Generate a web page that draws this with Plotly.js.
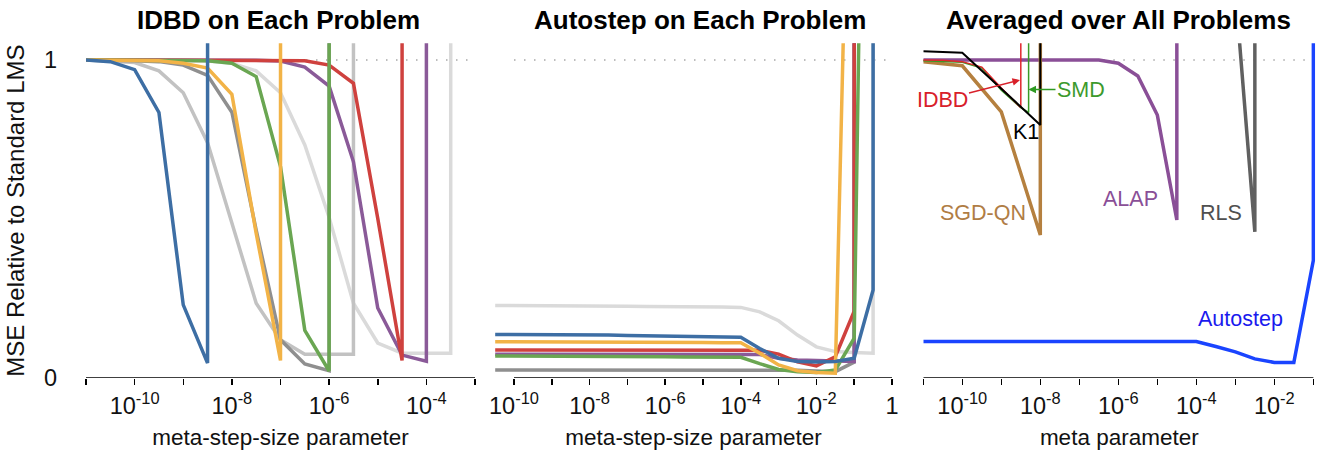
<!DOCTYPE html>
<html>
<head>
<meta charset="utf-8">
<script src="https://cdn.plot.ly/plotly-3.0.1.min.js"></script>
<style>
  html, body { margin: 0; padding: 0; background: #fff; }
  #chart { width: 1321px; height: 453px; }
</style>
</head>
<body>
<div id="chart"></div>
<script>
// ---------------- DATA ----------------
// Panel 1: IDBD on each problem (x = log10 meta-step-size)
const p1Exp = [-11, -10.5, -10, -9.5, -9, -8.5, -8, -7.5, -7, -6.5, -6, -5.5, -5, -4.5, -4, -3.5, -3];
const idbdBlue      = [1.0, 0.995, 0.97, 0.835, 0.23, 0.047, 1000];
const idbdMidGray   = [1.0, 0.997, 0.992, 0.966, 0.897, 0.74, 0.49, 0.235, 0.12, 0.075, 0.075, 0.075, 1000];
const idbdDarkGray  = [1.0, 1.0, 0.998, 0.995, 0.984, 0.952, 0.836, 0.465, 0.12, 0.044, 0.023, 1000];
const idbdOrange    = [1.0, 1.0, 1.0, 0.998, 0.99, 0.975, 0.892, 0.455, 0.055, 1000];
const idbdGreen     = [1.0, 1.0, 1.0, 1.0, 1.0, 0.998, 0.99, 0.948, 0.665, 0.15, 0.022, 1000];
const idbdLightGray = [1.0, 1.0, 1.0, 1.0, 0.999, 0.997, 0.99, 0.966, 0.897, 0.733, 0.505, 0.235, 0.11, 0.078, 0.078, 0.078, 1000];
const idbdPurple    = [1.0, 1.0, 1.0, 1.0, 1.0, 1.0, 1.0, 0.999, 0.997, 0.978, 0.918, 0.68, 0.22, 0.072, 0.053, 1000];
const idbdRed       = [1.0, 1.0, 1.0, 1.0, 1.0, 1.0, 1.0, 1.0, 0.999, 0.998, 0.984, 0.927, 0.502, 0.055, 1000];

// Panel 2: Autostep on each problem
const p2Exp = [-10.5, -10, -9.5, -9, -8.5, -8, -7.5, -7, -6.5, -6, -5.5, -5, -4.5, -4, -3.5, -3, -2.5, -2, -1.5, -1, -0.5, 0];
const asLightGray = [0.228, 0.228, 0.228, 0.228, 0.227, 0.227, 0.226, 0.226, 0.225, 0.225, 0.224, 0.224, 0.223, 0.222, 0.208, 0.18, 0.135, 0.098, 0.083, 0.08, 0.078, 1000];
const asBlue      = [0.137, 0.137, 0.137, 0.137, 0.137, 0.136, 0.135, 0.134, 0.133, 0.132, 0.131, 0.13, 0.129, 0.128, 0.093, 0.062, 0.052, 0.05, 0.052, 0.062, 0.277, 1000];
const asOrange    = [0.114, 0.114, 0.114, 0.114, 0.114, 0.113, 0.113, 0.113, 0.113, 0.112, 0.112, 0.112, 0.111, 0.111, 0.078, 0.041, 0.023, 0.017, 0.015, 2.5];
const asRed       = [0.088, 0.088, 0.088, 0.088, 0.088, 0.088, 0.088, 0.088, 0.088, 0.088, 0.088, 0.088, 0.088, 0.088, 0.087, 0.075, 0.051, 0.038, 0.067, 0.21, 1000];
const asPurple    = [0.075, 0.075, 0.075, 0.075, 0.075, 0.075, 0.075, 0.075, 0.075, 0.075, 0.075, 0.075, 0.075, 0.075, 0.074, 0.062, 0.057, 0.055, 0.053, 0.052, 1000];
const asGreen     = [0.069, 0.069, 0.069, 0.069, 0.068, 0.068, 0.068, 0.067, 0.067, 0.067, 0.066, 0.066, 0.066, 0.065, 0.045, 0.027, 0.02, 0.017, 0.025, 0.125, 4.0];
const asDarkGray  = [0.025, 0.025, 0.025, 0.025, 0.025, 0.025, 0.025, 0.025, 0.025, 0.025, 0.025, 0.025, 0.025, 0.025, 0.025, 0.025, 0.024, 0.022, 0.02, 0.05, 1000];

// Panel 3: averaged over all problems
const k1Exp   = [-11, -10, -9, -8, -7.5];
const k1Val   = [1.028, 1.023, 0.91, 0.796, 1000];
const idbdExp = [-11, -10.5, -10, -9.5, -9, -8.5, -8];
const idbdVal = [1.0, 0.999, 0.995, 0.978, 0.912, 0.85, 1000];
const smdExp  = [-11, -10, -9.5, -9, -8.5, -8.3, -8];
const smdVal  = [0.998, 0.993, 0.975, 0.905, 0.85, 0.835, 1000];
const sgdExp  = [-11, -10, -9, -8, -7.5];
const sgdVal  = [0.995, 0.982, 0.837, 0.45, 1000];
const alapExp = [-11, -10, -9, -8, -7, -6.5, -6, -5.5, -5, -4.5, -4];
const alapVal = [1.0, 1.0, 1.0, 1.0, 1.0, 1.0, 0.99, 0.95, 0.827, 0.497, 1000];
const rlsExp  = [-3, -2.5, -2];
const rlsVal  = [1.22, 0.46, 1000];
const autoExp = [-11, -10, -9, -8, -7, -6, -5, -4, -3.5, -3, -2.5, -2, -1.5, -1, -0.5];
const autoVal = [0.115, 0.115, 0.115, 0.115, 0.115, 0.115, 0.115, 0.115, 0.099, 0.082, 0.06, 0.049, 0.049, 0.37, 1000];

// Tick labels (labelled decades) and unlabelled decade ticks
const p1TickExp = [-10, -8, -6, -4];
const p1TickTxt = ['10<sup>-10</sup>', '10<sup>-8</sup>', '10<sup>-6</sup>', '10<sup>-4</sup>'];
const p1MinorExp = [-11, -9, -7, -5, -3];
const p2TickExp = [-10, -8, -6, -4, -2, 0];
const p2TickTxt = ['10<sup>-10</sup>', '10<sup>-8</sup>', '10<sup>-6</sup>', '10<sup>-4</sup>', '10<sup>-2</sup>', '1'];
const p2MinorExp = [-9, -7, -5, -3, -1];
const p3TickExp = [-10, -8, -6, -4, -2];
const p3TickTxt = ['10<sup>-10</sup>', '10<sup>-8</sup>', '10<sup>-6</sup>', '10<sup>-4</sup>', '10<sup>-2</sup>'];
const p3MinorExp = [-11, -9, -7, -5, -3, -1];

// ---------------- STYLE ----------------
const FONT = 'Liberation Sans, Arial, Helvetica, sans-serif';
const TXT = '#111111';
const C = {
  blue: '#3d6ea4', orange: '#f2b347', green: '#6aa652', red: '#cf413e', purple: '#8a5a98',
  dark: '#8f8f8f', mid: '#c2c2c2', light: '#dadada'
};
const W = 1321, H = 453;
const toVal = arr => arr.map(e => Math.pow(10, e));
const px = x => x / W;
const py = y => 1 - y / H;

function tr(exps, vals, color, ax, width) {
  return {
    x: toVal(exps.slice(0, vals.length)), y: vals, type: 'scatter', mode: 'lines',
    xaxis: 'x' + ax, yaxis: 'y' + ax, hoverinfo: 'skip', showlegend: false,
    line: { color: color, width: width || 3.5, shape: 'linear' }
  };
}

const data = [
  // panel 1
  tr(p1Exp, idbdLightGray, C.light, ''),
  tr(p1Exp, idbdMidGray, C.mid, ''),
  tr(p1Exp, idbdDarkGray, C.dark, ''),
  tr(p1Exp, idbdPurple, C.purple, ''),
  tr(p1Exp, idbdRed, C.red, ''),
  tr(p1Exp, idbdGreen, C.green, ''),
  tr(p1Exp, idbdOrange, C.orange, ''),
  tr(p1Exp, idbdBlue, C.blue, ''),
  // panel 2
  tr(p2Exp, asLightGray, C.light, '2'),
  tr(p2Exp, asDarkGray, C.dark, '2'),
  tr(p2Exp, asPurple, C.purple, '2'),
  tr(p2Exp, asRed, C.red, '2'),
  tr(p2Exp, asGreen, C.green, '2'),
  tr(p2Exp, asOrange, C.orange, '2'),
  tr(p2Exp, asBlue, C.blue, '2'),
  // panel 3
  tr(autoExp, autoVal, '#1a44ff', '3', 3.5),
  tr(rlsExp, rlsVal, '#606060', '3', 3.5),
  tr(alapExp, alapVal, '#8a4f97', '3', 3.5),
  tr(sgdExp, sgdVal, '#b5803f', '3', 3.5),
  tr(smdExp, smdVal, '#3a9a25', '3', 1.5),
  tr(idbdExp, idbdVal, '#e0262c', '3', 1.5),
  tr(k1Exp, k1Val, '#000000', '3', 2)
];

const yDom = [75 / H, 409.8 / H];
const tickfont = { family: FONT, size: 23.5, color: TXT };

function xax(dom, rng, tExp, tTxt, mExp, title, anchor) {
  return {
    domain: dom, type: 'log', range: rng, anchor: anchor,
    tickmode: 'array', tickvals: toVal(tExp), ticktext: tTxt,
    ticks: 'outside', ticklen: 6, tickwidth: 1.5, tickcolor: '#000',
    minor: { tickmode: 'array', tickvals: toVal(mExp), ticks: 'outside', ticklen: 6, tickwidth: 1.5, tickcolor: '#000', showgrid: false },
    showline: false, showgrid: false, zeroline: false,
    tickfont: tickfont, ticklabelstandoff: 1,
    title: { text: title, font: { family: FONT, size: 22.5, color: TXT }, standoff: 11 },
    fixedrange: true
  };
}
function yax(anchor, showLabels) {
  return {
    domain: yDom, range: [0, 1.053], anchor: anchor,
    tickmode: 'array', tickvals: [0, 1], ticktext: ['0', '1'],
    showticklabels: showLabels, ticks: '', showline: false, showgrid: false, zeroline: false,
    tickfont: tickfont, ticklabelstandoff: 28, fixedrange: true
  };
}

const y1 = yax('x', true);
y1.title = { text: 'MSE Relative to Standard LMS', font: { family: FONT, size: 24, color: TXT }, standoff: 12 };

function axisLine(ax, x0, x1) {
  return { type: 'line', xref: 'x' + ax, yref: 'y' + ax, x0: x0, x1: x1, y0: 0, y1: 0,
           line: { color: '#000', width: 1.5 }, layer: 'above' };
}
function dotLine(ax, x0, x1) {
  return { type: 'line', xref: 'x' + ax, yref: 'y' + ax, x0: x0, x1: x1, y0: 1, y1: 1,
           line: { color: '#a8a8a8', width: 1.5, dash: '1.5px,8.5px' }, layer: 'below' };
}

const titleFont = { family: FONT, size: 26, color: '#000', weight: 'bold' };
function ptitle(text, xc) {
  return { text: '<b>' + text + '</b>', xref: 'paper', yref: 'paper', x: px(xc), y: py(20),
           xanchor: 'center', yanchor: 'middle', showarrow: false, font: titleFont };
}
function label(text, xc, yc, color) {
  return { text: text, xref: 'paper', yref: 'paper', x: px(xc), y: py(yc),
           xanchor: 'center', yanchor: 'middle', showarrow: false,
           font: { family: FONT, size: 21.5, color: color } };
}

const layout = {
  width: W, height: H,
  margin: { l: 0, r: 0, t: 0, b: 0 },
  paper_bgcolor: '#fff', plot_bgcolor: '#fff',
  font: { family: FONT, color: TXT },
  showlegend: false,
  xaxis: xax([86 / W, 475 / W], [-11, -3], p1TickExp, p1TickTxt, p1MinorExp, 'meta-step-size parameter', 'y'),
  yaxis: y1,
  xaxis2: xax([495.1 / W, 892 / W], [-10.5, 0], p2TickExp, p2TickTxt, p2MinorExp, 'meta-step-size parameter', 'y2'),
  yaxis2: yax('x2', false),
  xaxis3: xax([923.3 / W, 1315.3 / W], [-11, -0.95], p3TickExp, p3TickTxt, p3MinorExp, 'meta parameter', 'y3'),
  yaxis3: yax('x3', false),
  shapes: [
    dotLine('', 1e-11, 1e-3), dotLine('2', 1e-10, 1), dotLine('3', 1e-11, 1e-1),
    axisLine('', 1e-11, 1e-3), axisLine('2', 1e-10, 1), axisLine('3', 1e-11, 1e-1)
  ],
  annotations: [
    ptitle('IDBD on Each Problem', 278),
    ptitle('Autostep on Each Problem', 700),
    ptitle('Averaged over All Problems', 1118),
    {
      text: 'IDBD', xref: 'paper', yref: 'paper', x: px(1020), y: py(80),
      ax: 942 - 1020, ay: 100 - 80, axref: 'pixel', ayref: 'pixel',
      showarrow: true, arrowhead: 2, arrowsize: 1, arrowwidth: 1.5, arrowcolor: '#d8202a',
      font: { family: FONT, size: 21.5, color: '#d8202a' }
    },
    {
      text: 'SMD', xref: 'paper', yref: 'paper', x: px(1028.5), y: py(89.5),
      ax: 1081 - 1028.5, ay: 0, axref: 'pixel', ayref: 'pixel',
      showarrow: true, arrowhead: 2, arrowsize: 1, arrowwidth: 1.5, arrowcolor: '#2f9a22',
      font: { family: FONT, size: 21.5, color: '#3c9a2c' }
    },
    label('K1', 1026, 132, '#000'),
    label('SGD-QN', 983, 213, '#b07d45'),
    label('ALAP', 1130, 199, '#8a4f97'),
    label('RLS', 1221, 213, '#505050'),
    label('Autostep', 1240, 319, '#1a1aee')
  ]
};

Plotly.newPlot('chart', data, layout, { staticPlot: true, displayModeBar: false });
</script>
</body>
</html>
